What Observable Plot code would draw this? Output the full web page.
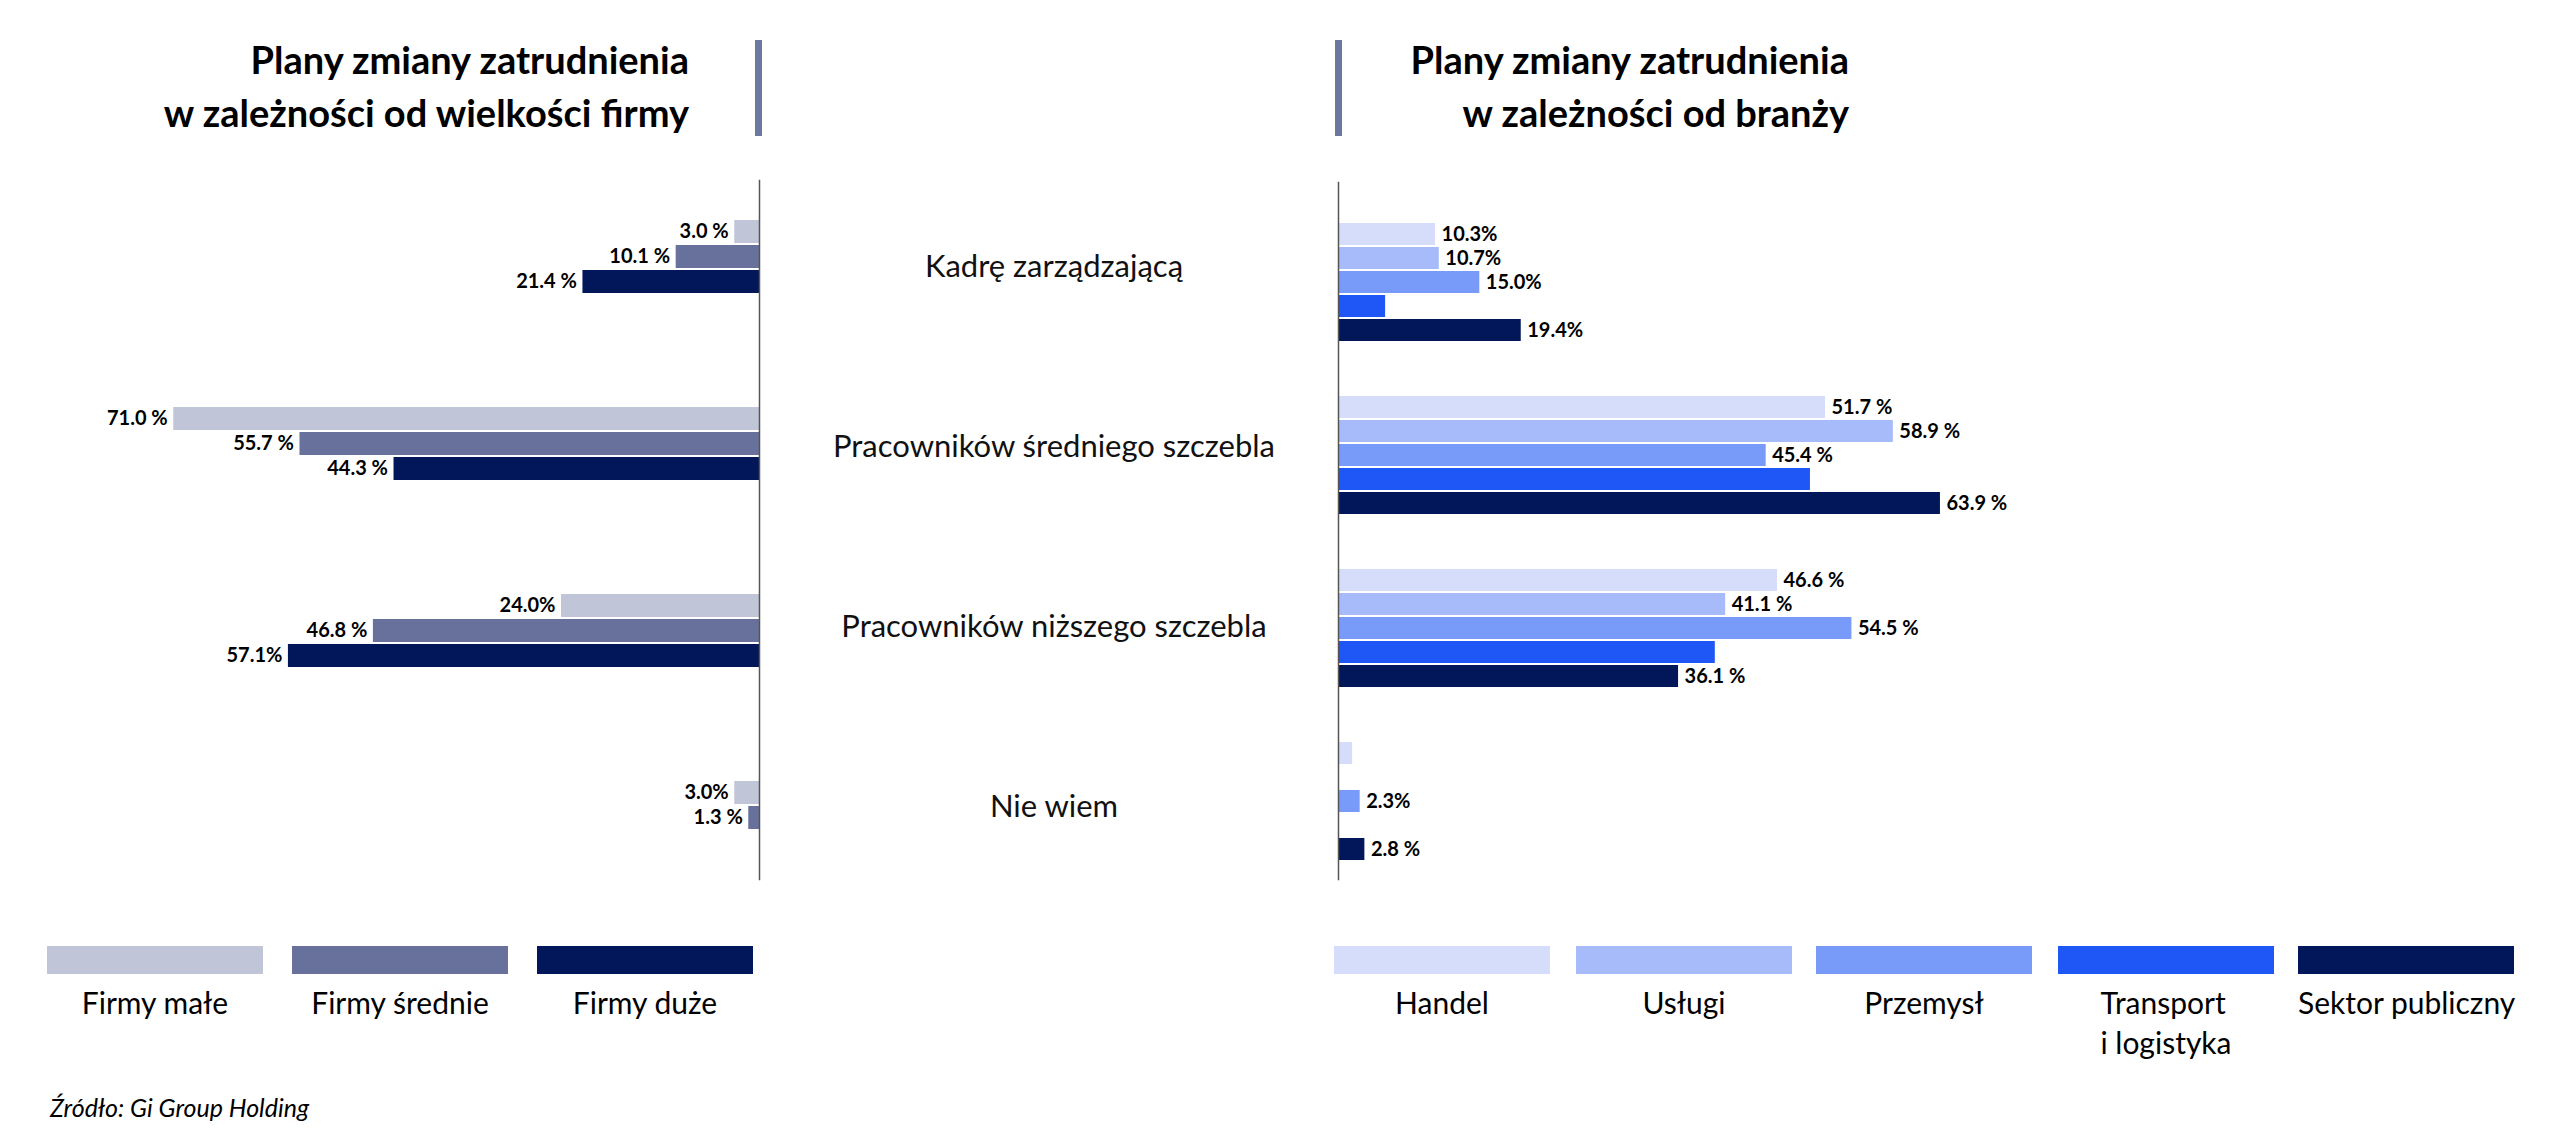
<!DOCTYPE html>
<html lang="pl">
<head>
<meta charset="utf-8">
<script src="https://cdn.jsdelivr.net/npm/d3@7"></script>
<script src="https://cdn.jsdelivr.net/npm/@observablehq/plot@0.6"></script>
<style>
  body { margin: 0; background: #fff; }
  #root { position: relative; width: 2559px; height: 1143px; overflow: hidden; font-family: Lato, sans-serif; color: #000; background: #fff; }
  .title { position: absolute; top: 33px; font-weight: 700; font-size: 38px; line-height: 53px; text-align: right; white-space: nowrap; }
  .tbar { position: absolute; top: 40px; width: 7px; height: 96px; background: #6b779f; }
  .plot { position: absolute; top: 180px; }
  .sw { position: absolute; top: 946px; width: 216px; height: 28px; }
  .lab { position: absolute; top: 982px; width: 216px; text-align: center; font-size: 30px; line-height: 40px; }
  .lab span { display: inline-block; text-align: left; white-space: pre; }
  .src { position: absolute; left: 50px; top: 1092px; font-style: italic; font-size: 25px; white-space: nowrap; }
</style>
</head>
<body>
<div id="root">
  <div class="title" style="right: 1870px;">Plany zmiany zatrudnienia<br>w zależności od wielkości firmy</div>
  <div class="tbar" style="left: 755px;"></div>
  <div class="tbar" style="left: 1335px;"></div>
  <div class="title" style="right: 710px;">Plany zmiany zatrudnienia<br>w zależności od branży</div>
  <div id="leftPlot" class="plot" style="left: 0px;"></div>
  <div id="midPlot" class="plot" style="left: 759px;"></div>
  <div id="rightPlot" class="plot" style="left: 1300px;"></div>
  <div id="legendLeft"></div>
  <div id="legendRight"></div>
  <div class="src">Źródło: Gi Group Holding</div>
</div>
<script>
// ---------- DATA ----------
const categories = ["Kadrę zarządzającą", "Pracowników średniego szczebla", "Pracowników niższego szczebla", "Nie wiem"];

// by company size
const sizeSeries = ["Firmy małe", "Firmy średnie", "Firmy duże"];
const sizeSmall  = [3.0, 71.0, 24.0, 3.0];
const sizeMedium = [10.1, 55.7, 46.8, 1.3];
const sizeLarge  = [21.4, 44.3, 57.1, null];
const sizeSmallLabels  = ["3.0 %", "71.0 %", "24.0%", "3.0%"];
const sizeMediumLabels = ["10.1 %", "55.7 %", "46.8 %", "1.3 %"];
const sizeLargeLabels  = ["21.4 %", "44.3 %", "57.1%", null];

// by industry
const industrySeries = ["Handel", "Usługi", "Przemysł", "Transport i logistyka", "Sektor publiczny"];
const industryLegendLabels = ["Handel", "Usługi", "Przemysł", "Transport\ni logistyka", "Sektor publiczny"];
const handel    = [10.3, 51.7, 46.6, 1.5];
const uslugi    = [10.7, 58.9, 41.1, null];
const przemysl  = [15.0, 45.4, 54.5, 2.3];
const transport = [5.0, 50.1, 40.0, null];
const sektor    = [19.4, 63.9, 36.1, 2.8];
const handelLabels    = ["10.3%", "51.7 %", "46.6 %", null];
const uslugiLabels    = ["10.7%", "58.9 %", "41.1 %", null];
const przemyslLabels  = ["15.0%", "45.4 %", "54.5 %", "2.3%"];
const transportLabels = [null, null, null, null];
const sektorLabels    = ["19.4%", "63.9 %", "36.1 %", "2.8 %"];

// ---------- STYLE ----------
const sizeColors = ["#c1c5d8", "#68719b", "#011759"];
const industryColors = ["#d5ddfa", "#a7bbfb", "#789bf9", "#1f56f6", "#011759"];
const FONT = "Lato, sans-serif";

function tidy(series, values, labels) {
  return series.flatMap((s, j) => categories.map((c, i) => ({
    category: c, series: s, value: values[j][i], label: labels[j][i]
  }))).filter(d => d.value != null);
}

const sizeData = tidy(sizeSeries, [sizeSmall, sizeMedium, sizeLarge],
  [sizeSmallLabels, sizeMediumLabels, sizeLargeLabels]);
const industryData = tidy(industrySeries, [handel, uslugi, przemysl, transport, sektor],
  [handelLabels, uslugiLabels, przemyslLabels, transportLabels, sektorLabels]);

const baseStyle = {background: "transparent", fontFamily: FONT, overflow: "visible"};
const labelStyle = {fontSize: 20, fontWeight: "bold", fill: "#000", fontFamily: FONT};

// ---------- LEFT CHART ----------
const left = Plot.plot({
  width: 780, height: 701,
  marginTop: 0, marginBottom: 0, marginLeft: 0, marginRight: 21,
  style: baseStyle,
  x: {domain: [0, 92], reverse: true, axis: null},
  y: {domain: sizeSeries, paddingInner: 0.065, paddingOuter: 0, axis: null},
  fy: {domain: categories, paddingInner: 0.592, paddingOuter: 0.1703, align: 0.612, axis: null},
  color: {domain: sizeSeries, range: sizeColors},
  marks: [
    Plot.barX(sizeData, {x: "value", y: "series", fy: "category", fill: "series"}),
    Plot.text(sizeData.filter(d => d.label), {x: "value", y: "series", fy: "category", text: "label",
      textAnchor: "end", dx: -6, ...labelStyle}),
    Plot.frame({anchor: "right", facet: "super", stroke: "#555", strokeWidth: 1.5, insetTop: -39, insetBottom: -23})
  ]
});
document.getElementById("leftPlot").append(left);

// ---------- CATEGORY LABELS (middle) ----------
const mid = Plot.plot({
  width: 579, height: 701,
  marginTop: 0, marginBottom: 0, marginLeft: 10, marginRight: 0,
  style: baseStyle,
  y: {type: "point", domain: categories, range: [86, 627], padding: 0, axis: null},
  marks: [
    Plot.text(categories, {y: d => d, text: d => d, fontSize: 31, fill: "#111", fontFamily: FONT})
  ]
});
document.getElementById("midPlot").append(mid);

// ---------- RIGHT CHART ----------
const right = Plot.plot({
  width: 800, height: 701,
  marginTop: 0, marginBottom: 0, marginLeft: 38, marginRight: 800 - 38 - 70 * 9.42,
  style: baseStyle,
  x: {domain: [0, 70], axis: null},
  y: {domain: industrySeries, paddingInner: 0.065, paddingOuter: 0, axis: null},
  fy: {domain: categories, paddingInner: 0.301, paddingOuter: 0.1685, align: 0.683, axis: null},
  color: {domain: industrySeries, range: industryColors},
  marks: [
    Plot.barX(industryData, {x: "value", y: "series", fy: "category", fill: "series"}),
    Plot.text(industryData.filter(d => d.label), {x: "value", y: "series", fy: "category", text: "label",
      textAnchor: "start", dx: 6, ...labelStyle}),
    Plot.frame({anchor: "left", facet: "super", stroke: "#555", strokeWidth: 1.5, insetTop: -40, insetBottom: -17})
  ]
});
document.getElementById("rightPlot").append(right);

// ---------- LEGENDS ----------
function legend(containerId, labels, colors, lefts) {
  const c = document.getElementById(containerId);
  labels.forEach((l, i) => {
    const sw = document.createElement("div");
    sw.className = "sw"; sw.style.left = lefts[i] + "px"; sw.style.background = colors[i];
    c.append(sw);
    const lab = document.createElement("div");
    lab.className = "lab"; lab.style.left = lefts[i] + "px";
    const sp = document.createElement("span"); sp.textContent = l;
    lab.append(sp); c.append(lab);
  });
}
legend("legendLeft", sizeSeries, sizeColors, [47, 292, 537]);
legend("legendRight", industryLegendLabels, industryColors, [1334, 1576, 1816, 2058, 2298]);
</script>
</body>
</html>
